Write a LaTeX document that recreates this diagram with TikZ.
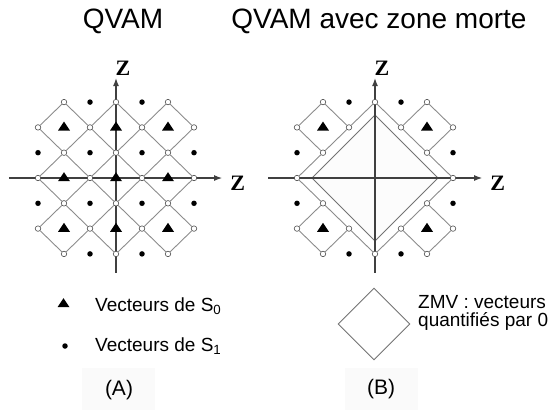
\documentclass[tikz,border=0pt]{standalone}
\usepackage{fontspec}
\setmainfont{Liberation Sans}
\newfontfamily\zfont{Liberation Serif}
\usetikzlibrary{positioning}
\usetikzlibrary{shapes.geometric}
\usetikzlibrary{arrows.meta}

\tikzset{
  axe/.style={draw=black!75,line width=1.2pt,-{Latex[length=8pt,width=6pt]}},
  losange/.style={draw=black!45,line width=0.9pt},
  zone/.style={draw=black!55,line width=0.9pt,fill=black!1},
  vide/.style={circle,draw=black!70,fill=white,line width=0.6pt,inner sep=0pt,minimum size=5.5pt},
  plein/.style={circle,fill=black,inner sep=0pt,minimum size=5.5pt},
  tri/.style={isosceles triangle,isosceles triangle stretches,shape border rotate=90,
    fill=black,inner sep=0pt,minimum width=12pt,minimum height=9pt},
  zlab/.style={inner sep=0pt,font=\zfont\bfseries\fontsize{22}{22}\selectfont},
  titre/.style={font=\fontsize{28}{30}\selectfont},
  legende/.style={anchor=west,inner sep=0pt,font=\fontsize{19}{19}\selectfont},
  cadre/.style={fill=black!2}
}

\begin{document}
\begin{tikzpicture}[x=1pt,y=-1pt]
\useasboundingbox (0,0) rectangle (554,410);

\node[titre] (titreA) at (123,21) {QVAM};
\node[titre] (titreB) at (379,21) {QVAM avec zone morte};

% (A) QVAM
\begin{scope}[shift={(116,178)},x=26pt,y=25.3pt]
\coordinate (gW) at (-4.12,0);
\coordinate (gE) at (4.08,0);
\coordinate (gS) at (0,-3.75);
\coordinate (gN) at (0,3.95);
\draw[axe] (gW) -- (gE);
\draw[axe] (gS) -- (gN);
\node[zlab,right=8pt of gE,yshift=-5pt] (gZx) {Z};
\node[zlab,above=2pt of gN,xshift=7pt] (gZy) {Z};
\foreach \i in {-3,...,3}{
  \foreach \j in {-3,...,3}{
    \pgfmathtruncatemacro\p{mod(\i+\j+6,2)}
    \pgfmathtruncatemacro\q{mod(\i+6,2)}
    \pgfmathtruncatemacro\somme{abs(\i)+abs(\j)}
    \ifnum\p=1
      \node[vide] (g\i\j) at (\i,\j) {};
    \else
      \ifnum\q=0
        \node[tri] (gt\i\j) at (\i,\j) {};
      \else
        \ifnum\somme<6 \node[plein] (gd\i\j) at (\i,\j) {}; \fi
      \fi
    \fi
  }
}
\foreach \i in {-2,0,2}{
  \foreach \j in {-2,0,2}{
    \pgfmathtruncatemacro\il{\i-1}
    \pgfmathtruncatemacro\ir{\i+1}
    \pgfmathtruncatemacro\jb{\j-1}
    \pgfmathtruncatemacro\jh{\j+1}
    \draw[losange] (g\il\j) -- (g\i\jh) -- (g\ir\j) -- (g\i\jb) -- (g\il\j);
  }
}
\end{scope}

% (B) QVAM avec zone morte
\begin{scope}[shift={(375,178)},x=26pt,y=25.3pt]
\coordinate (zW) at (-2.42,0);
\coordinate (zN) at (0,2.49);
\coordinate (zE) at (2.42,0);
\coordinate (zS) at (0,-2.49);
\draw[zone] (zW) -- (zN) -- (zE) -- (zS) -- cycle;
\coordinate (dW) at (-4.1,0);
\coordinate (dE) at (4.12,0);
\coordinate (dS) at (0,-3.75);
\coordinate (dN) at (0,3.95);
\draw[axe] (dW) -- (dE);
\draw[axe] (dS) -- (dN);
\node[zlab,right=8pt of dE,yshift=-5pt] (dZx) {Z};
\node[zlab,above=2pt of dN,xshift=7pt] (dZy) {Z};
\foreach \i/\j in {-3/0,3/0,0/3,0/-3}
  \node[vide] (d\i\j) at (\i,\j) {};
\foreach \i/\j in {-1/3,1/3,-3/1,3/1,-3/-1,3/-1,-1/-3,1/-3}
  \node[plein] (dd\i\j) at (\i,\j) {};
\foreach \i in {-2,2}{
  \foreach \j in {-2,2}{
    \pgfmathtruncatemacro\il{\i-1}
    \pgfmathtruncatemacro\ir{\i+1}
    \pgfmathtruncatemacro\jb{\j-1}
    \pgfmathtruncatemacro\jh{\j+1}
    \node[tri] (dt\i\j) at (\i,\j) {};
    \node[vide] (d\il\j) at (\il,\j) {};
    \node[vide] (d\ir\j) at (\ir,\j) {};
    \node[vide] (d\i\jb) at (\i,\jb) {};
    \node[vide] (d\i\jh) at (\i,\jh) {};
    \draw[losange] (d\il\j) -- (d\i\jh) -- (d\ir\j) -- (d\i\jb) -- (d\il\j);
  }
}
\draw[losange] (d-30) -- (d-21) (d-12) -- (d03) -- (d12) (d21) -- (d30)
  -- (d2-1) (d1-2) -- (d0-3) -- (d-1-2) (d-2-1) -- (d-30);
\end{scope}

% legendes
\node[tri] (legT) at (63.5,304) {};
\node[legende] (legS0) at (95,306) {Vecteurs de S\textsubscript{0}};
\node[plein] (legD) at (65,346) {};
\node[legende] (legS1) at (95,346) {Vecteurs de S\textsubscript{1}};
\node[diamond,draw=black!55,line width=0.9pt,minimum size=72pt,inner sep=0pt] (legZ) at (374,324) {};
\node[legende,align=left,font=\fontsize{19}{18}\selectfont] (legZMV) at (418,313) {ZMV : vecteurs\\quantifiés par 0};

\fill[cadre] (82,368) rectangle (155,410);
\fill[cadre] (345,368) rectangle (418,410);
\node[font=\fontsize{21}{21}\selectfont] (labA) at (119,390) {(A)};
\node[font=\fontsize{21}{21}\selectfont] (labB) at (381,389) {(B)};
\end{tikzpicture}
\end{document}
